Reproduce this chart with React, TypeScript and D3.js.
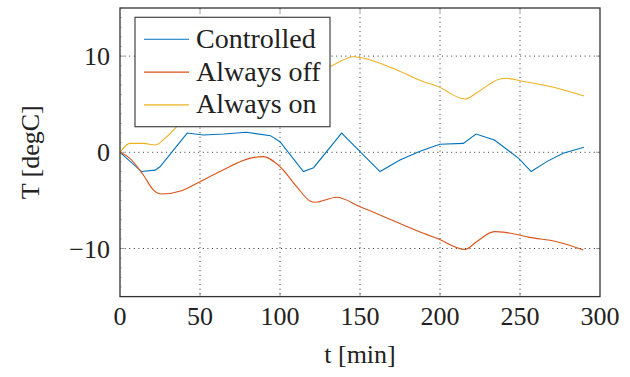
import * as d3 from 'd3'

// t [min]
const tControlled = [0, 13.5, 22, 25, 42, 52, 65, 79, 94, 100, 114.6, 121, 138.5, 162.5, 175, 187.5, 200, 214.6, 222.5, 234, 249, 257, 266.7, 277, 290]
const controlled = [0, -2.0, -1.85, -1.5, 2.0, 1.8, 1.9, 2.08, 1.73, 1.1, -2.0, -1.6, 2.0, -2.0, -0.8, 0.1, 0.83, 0.93, 1.9, 1.28, -0.6, -2.0, -0.97, -0.1, 0.52]

const tOff = [0, 6, 14.6, 20.8, 26, 38.5, 50, 62.5, 81, 89.6, 100, 110.4, 118.75, 122, 135.4, 150, 162.5, 189.6, 198, 215.6, 222.9, 234, 241.7, 256, 273, 289.6]
const alwaysOff = [0, -0.6, -2.36, -3.9, -4.33, -3.99, -3.05, -2.0, -0.63, -0.45, -1.5, -3.57, -5.06, -5.2, -4.68, -5.65, -6.52, -8.42, -8.94, -10.1, -9.29, -8.25, -8.35, -8.84, -9.29, -10.15]

const tOn = [0, 6.25, 14.6, 22, 28, 35.4, 50, 62.5, 81, 90, 100, 110, 122, 131, 146, 151, 173, 189.6, 198, 215.6, 223, 237.5, 241.7, 250, 271, 290]
const alwaysOn = [0, 0.93, 0.93, 0.76, 1.45, 2.66, 5.4, 7.7, 10.5, 11.2, 10.9, 9.5, 8.4, 8.9, 9.94, 9.83, 8.56, 7.34, 6.89, 5.54, 6.2, 7.62, 7.69, 7.44, 6.76, 5.85]

const xTicks = [0, 50, 100, 150, 200, 250, 300]
const yTicks = [-10, 0, 10]

const series = [
  { name: 'Controlled', t: tControlled, v: controlled, color: '#0072BD', smooth: false },
  { name: 'Always off', t: tOff, v: alwaysOff, color: '#D95319', smooth: true },
  { name: 'Always on', t: tOn, v: alwaysOn, color: '#EDB120', smooth: true },
]

const W = 630
const H = 377
const left = 120
const right = 600
const top = 8
const bottom = 296.6
const font = 'Liberation Serif, Times New Roman, serif'
const frame = '#333'

export default function App() {
  const x = d3.scaleLinear().domain([0, 300]).range([left, right])
  const y = d3.scaleLinear().domain([-15, 15]).range([bottom, top])
  const minorY = d3.range(-15, 16, 1).filter((v) => !yTicks.includes(v))

  return (
    <svg width={W} height={H} style={{ position: 'absolute', left: 0, top: 0, background: '#fff' }}>
      {/* grid */}
      {xTicks.slice(1, -1).map((t) => (
        <line key={'gx' + t} x1={x(t)} x2={x(t)} y1={top} y2={bottom} stroke="#000" strokeWidth={0.8} strokeDasharray="1,3.6" />
      ))}
      {yTicks.map((v) => (
        <line key={'gy' + v} x1={left} x2={right} y1={y(v)} y2={y(v)} stroke="#000" strokeWidth={0.8} strokeDasharray="1,3.6" />
      ))}

      {/* ticks */}
      {xTicks.slice(1, -1).map((t) => (
        <g key={'tx' + t} stroke="#888" strokeWidth={0.8}>
          <line x1={x(t)} x2={x(t)} y1={bottom} y2={bottom - 4} />
          <line x1={x(t)} x2={x(t)} y1={top} y2={top + 4} />
        </g>
      ))}
      {yTicks.map((v) => (
        <g key={'ty' + v} stroke="#888" strokeWidth={0.8}>
          <line x1={left} x2={left + 4} y1={y(v)} y2={y(v)} />
          <line x1={right} x2={right - 4} y1={y(v)} y2={y(v)} />
        </g>
      ))}
      {minorY.map((v) => (
        <line key={'my' + v} x1={left} x2={left + 2} y1={y(v)} y2={y(v)} stroke="#999" strokeWidth={0.6} />
      ))}

      {/* lines */}
      {series.map((s) => {
        const line = d3
          .line<number>()
          .x((_, i) => x(s.t[i]))
          .y((d) => y(d))
          .curve(s.smooth ? d3.curveMonotoneX : d3.curveLinear)
        return <path key={s.name} d={line(s.v) ?? ''} fill="none" stroke={s.color} strokeWidth={1.1} />
      })}

      {/* frame */}
      <rect x={left} y={top} width={right - left} height={bottom - top} fill="none" stroke={frame} strokeWidth={1.3} />

      {/* tick labels */}
      {xTicks.map((t) => (
        <text key={'lx' + t} x={x(t)} y={325} textAnchor="middle" fontFamily={font} fontSize={26} fill="#222">
          {t}
        </text>
      ))}
      {yTicks.map((v) => (
        <text key={'ly' + v} x={110} y={y(v) + 9} textAnchor="end" fontFamily={font} fontSize={26} fill="#222">
          {v < 0 ? '\u2212' + Math.abs(v) : v}
        </text>
      ))}

      {/* axis labels */}
      <text x={(left + right) / 2} y={363} textAnchor="middle" fontFamily={font} fontSize={26} fill="#222">
        t [min]
      </text>
      <text
        transform={`translate(39, ${(top + bottom) / 2}) rotate(-90)`}
        textAnchor="middle"
        fontFamily={font}
        fontSize={26}
        fill="#222"
      >
        T [degC]
      </text>

      {/* legend */}
      <g>
        <rect x={135} y={17.3} width={195} height={109.4} fill="#fff" stroke="#444" strokeWidth={1.2} />
        {series.map((s, i) => {
          const ry = 39.3 + i * 32.8
          return (
            <g key={'lg' + s.name}>
              <line x1={144} x2={189} y1={ry} y2={ry} stroke={s.color} strokeWidth={1.1} />
              <text x={196} y={ry + 8.5} fontFamily={font} fontSize={28} fill="#222">
                {s.name}
              </text>
            </g>
          )
        })}
      </g>
    </svg>
  )
}
